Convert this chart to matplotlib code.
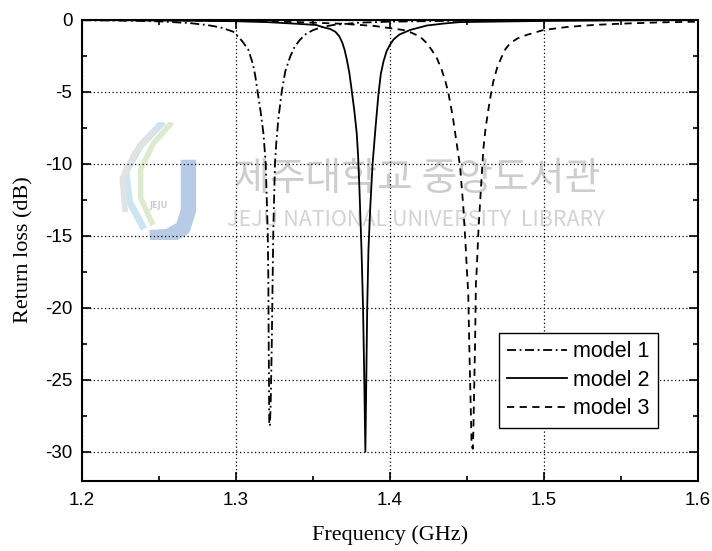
import matplotlib
matplotlib.use("Agg")
import matplotlib.pyplot as plt
from matplotlib.ticker import MultipleLocator

# values
freq_m1 = [1.200, 1.230, 1.250, 1.270, 1.281, 1.290, 1.2983, 1.3005, 1.304, 1.308,
           1.311, 1.3125, 1.314, 1.316, 1.3178, 1.3193, 1.3206, 1.3210, 1.3212,
           1.3214, 1.3216, 1.3220, 1.3225, 1.3232, 1.3238, 1.3242, 1.3253, 1.3262,
           1.3275, 1.3297, 1.3320, 1.3351, 1.338, 1.3416, 1.3455, 1.3502, 1.356,
           1.3632, 1.380, 1.400, 1.450, 1.500, 1.600]
rl_m1 = [-0.05, -0.08, -0.13, -0.25, -0.38, -0.55, -0.85, -1.1, -1.5, -2.1,
         -3.1, -3.9, -5.0, -6.4, -7.9, -10.0, -14.8, -18.0, -22.0,
         -25.0, -28.2, -28.2, -26.8, -22.7, -18.0, -14.8, -10.0, -8.5,
         -6.9, -5.0, -3.6, -2.6, -1.9, -1.4, -1.0, -0.73, -0.52,
         -0.38, -0.22, -0.15, -0.08, -0.05, -0.03]

freq_m2 = [1.200, 1.250, 1.300, 1.320, 1.340, 1.352, 1.357, 1.361, 1.3645, 1.367,
           1.369, 1.3705, 1.372, 1.3736, 1.3751, 1.3768, 1.3784, 1.3793, 1.3801,
           1.3815, 1.3825, 1.3833, 1.3840, 1.3846, 1.3852, 1.3860, 1.3872, 1.3887,
           1.3906, 1.3924, 1.3940, 1.3958, 1.3978, 1.4000, 1.4022, 1.406, 1.413,
           1.4238, 1.435, 1.4455, 1.500, 1.550, 1.600]
rl_m2 = [-0.03, -0.06, -0.12, -0.18, -0.30, -0.38, -0.55, -0.65, -0.85, -1.15,
         -1.6, -2.1, -2.8, -3.7, -4.9, -6.3, -7.9, -9.5, -11.6,
         -16.0, -20.0, -25.0, -30.0, -25.0, -20.0, -16.0, -13.0, -10.0,
         -7.5, -5.3, -3.8, -2.9, -2.2, -1.75, -1.4, -1.05, -0.73,
         -0.42, -0.28, -0.18, -0.10, -0.06, -0.04]

freq_m3 = [1.200, 1.250, 1.300, 1.340, 1.370, 1.390, 1.4086, 1.414, 1.4195, 1.4235,
           1.427, 1.4305, 1.4336, 1.4360, 1.4379, 1.4407, 1.4433, 1.4455, 1.4476,
           1.4490, 1.4500, 1.4508, 1.4515, 1.4530, 1.4538, 1.4541, 1.4552, 1.4558,
           1.4562, 1.4575, 1.4589, 1.4606, 1.4620, 1.4638, 1.4655, 1.4671, 1.4697,
           1.4725, 1.475, 1.478, 1.483, 1.4888, 1.4996, 1.515, 1.532, 1.550,
           1.5753, 1.600]
rl_m3 = [-0.04, -0.06, -0.10, -0.18, -0.30, -0.45, -0.73, -0.92, -1.19, -1.6,
         -2.1, -2.7, -3.5, -4.3, -5.1, -6.7, -8.6, -10.2, -13.0,
         -15.5, -17.5, -19.0, -22.7, -29.6, -29.8, -28.7, -22.7, -18.3,
         -17.6, -14.5, -12.0, -9.0, -7.6, -6.3, -5.2, -4.3, -3.3,
         -2.6, -2.05, -1.65, -1.3, -1.07, -0.73, -0.52, -0.38, -0.29,
         -0.20, -0.15]

labels = ["model 1", "model 2", "model 3"]
x_ticks = [1.2, 1.3, 1.4, 1.5, 1.6]
y_ticks = [0, -5, -10, -15, -20, -25, -30]

fig = plt.figure(figsize=(7.12, 5.51), dpi=100)

# faint library watermark behind the plot
logo = fig.add_axes([113 / 712, 1 - 240 / 551, 92 / 712, 118 / 551], zorder=0)
logo.axis("off")
logo.set_xlim(0, 1)
logo.set_ylim(0, 1)
logo.plot([0.82, 0.82, 0.76, 0.6, 0.4], [0.68, 0.25, 0.1, 0.03, 0.02],
          color="#b8cbe6", lw=11, solid_capstyle="butt")
logo.plot([0.52, 0.30, 0.14, 0.18, 0.32], [0.98, 0.80, 0.58, 0.32, 0.12],
          color="#cbe5f3", lw=5)
logo.plot([0.62, 0.44, 0.30, 0.30, 0.42], [0.98, 0.82, 0.60, 0.36, 0.15],
          color="#dcebcd", lw=4)
logo.plot([0.44, 0.24, 0.10, 0.13], [0.92, 0.74, 0.52, 0.26],
          color="#e2e2e2", lw=4)
logo.text(0.5, 0.27, "JEJU", color="#cccccc", fontsize=6, ha="center",
          fontweight="bold")

fig.text(417 / 712, 1 - 179 / 551, "제주대학교 중앙도서관", color="#cdcdcd",
         fontsize=28, ha="center", va="center",
         family=["Noto Sans CJK KR", "DejaVu Sans"], zorder=0)
fig.text(416 / 712, 1 - 220 / 551, "JEJU NATIONAL UNIVERSITY  LIBRARY",
         color="#d3d3d3", fontsize=15.5, ha="center", va="center",
         family=["Noto Sans CJK KR", "DejaVu Sans"], zorder=0)

ax = fig.add_axes([82 / 712, 1 - 480.5 / 551, 616 / 712, 461 / 551], zorder=1)
ax.patch.set_alpha(0)

ax.plot(freq_m1, rl_m1, color="black", lw=1.3, dashes=(5, 2, 1, 2), label=labels[0])
ax.plot(freq_m2, rl_m2, color="black", lw=1.3, label=labels[1])
ax.plot(freq_m3, rl_m3, color="black", lw=1.3, dashes=(4, 3), label=labels[2])

ax.set_xlim(1.2, 1.6)
ax.set_ylim(-32, 0)
ax.set_xticks(x_ticks)
ax.set_yticks(y_ticks)
ax.set_xticklabels([f"{v:.1f}" for v in x_ticks])
ax.set_yticklabels([str(v) for v in y_ticks])
ax.xaxis.set_minor_locator(MultipleLocator(0.05))
ax.yaxis.set_minor_locator(MultipleLocator(2.5))

ax.tick_params(which="both", direction="in", top=True, right=True, width=1.2,
               labelsize=13.5, labelfontfamily="Liberation Sans")
ax.tick_params(axis="x", which="major", length=6.5, pad=8)
ax.tick_params(axis="y", which="major", length=6.5, pad=7)
ax.tick_params(which="minor", length=3.5)
for sp in ax.spines.values():
    sp.set_linewidth(1.5)

ax.grid(True, which="major", color="black", linestyle=(0, (1, 2)), lw=0.9)

ax.set_xlabel("Frequency (GHz)", family="Liberation Serif", fontsize=16, labelpad=12)
ax.set_ylabel("Return loss (dB)", family="Liberation Serif", fontsize=16, labelpad=8)

leg = ax.legend(loc="lower right", bbox_to_anchor=(0.935, 0.114),
                prop={"family": "Liberation Sans", "size": 15.5},
                fancybox=False, framealpha=1, edgecolor="black",
                handlelength=2.8, handletextpad=0.25, labelspacing=0.35,
                borderpad=0.4, borderaxespad=0)
leg.get_frame().set_linewidth(1.0)

fig.savefig("out.png", dpi=100)
